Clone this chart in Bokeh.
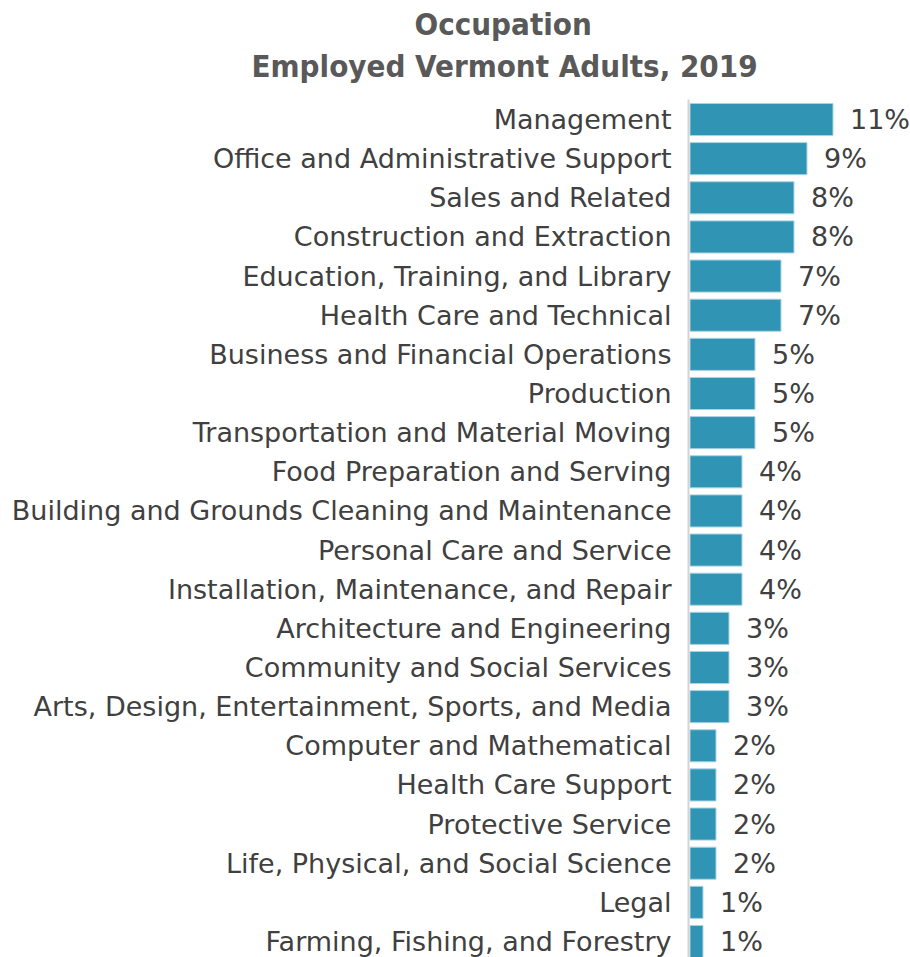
from bokeh.plotting import figure
from bokeh.models import Range1d, FixedTicker, ColumnDataSource, Title
from bokeh.embed import file_html
from bokeh.resources import INLINE
from bokeh.core.properties import value

categories = [
    "Management",
    "Office and Administrative Support",
    "Sales and Related",
    "Construction and Extraction",
    "Education, Training, and Library",
    "Health Care and Technical",
    "Business and Financial Operations",
    "Production",
    "Transportation and Material Moving",
    "Food Preparation and Serving",
    "Building and Grounds Cleaning and Maintenance",
    "Personal Care and Service",
    "Installation, Maintenance, and Repair",
    "Architecture and Engineering",
    "Community and Social Services",
    "Arts, Design, Entertainment, Sports, and Media",
    "Computer and Mathematical",
    "Health Care Support",
    "Protective Service",
    "Life, Physical, and Social Science",
    "Legal",
    "Farming, Fishing, and Forestry",
]
percent = [11, 9, 8, 8, 7, 7, 5, 5, 5, 4, 4, 4, 4, 3, 3, 3, 2, 2, 2, 2, 1, 1]

FONT = "DejaVu Sans"
TEXT_COLOR = "#404040"

n = len(categories)
ypos = [n - 1 - i for i in range(n)]
labels = [f"{v}%" for v in percent]
src = ColumnDataSource(dict(y=ypos, v=percent, lab=labels))

W, H = 910, 957
FL, FT = 688, 99
p = figure(width=W, height=H, output_backend="svg", toolbar_location=None,
           x_range=Range1d(-0.115, -0.115 + (W - FL) / 13.0),
           y_range=Range1d(-0.409, n - 1 + 0.511),
           min_border_left=FL, min_border_right=0, min_border_top=FT, min_border_bottom=0)
p.outline_line_color = None
p.grid.grid_line_color = None
p.xaxis.visible = False
p.background_fill_color = "white"
p.border_fill_color = "white"

p.hbar(y="y", left=0, right="v", height=0.82, source=src,
       fill_color="#3094b4", line_color="#a9d3e2", line_width=1)

p.text(x="v", y="y", text="lab", source=src, x_offset=17,
       text_font=value(FONT), text_font_size="27px", text_color=TEXT_COLOR,
       text_baseline="middle", text_align="left")

ya = p.yaxis[0]
ya.ticker = FixedTicker(ticks=ypos)
ya.major_label_overrides = {y: c for y, c in zip(ypos, categories)}
ya.major_tick_line_color = None
ya.minor_tick_line_color = None
ya.axis_line_color = "#d4d4d4"
ya.axis_line_width = 2
ya.major_label_text_font = FONT
ya.major_label_text_font_size = "27px"
ya.major_label_text_color = TEXT_COLOR
ya.major_label_standoff = 11

TITLE_FONT = "'Liberation Sans Narrow', 'DejaVu Sans Condensed', 'Roboto Condensed', sans-serif"
# spacer between plot frame and subtitle (white text on white)
p.add_layout(Title(text=".", text_color="white", text_font_size="10px", standoff=3), "above")
p.add_layout(Title(text="Employed Vermont Adults, 2019", align="left", offset=251 - FL,
                   text_font=TITLE_FONT, text_font_size="31px", text_font_style="bold",
                   text_color="#595959", standoff=5), "above")
p.add_layout(Title(text="Occupation", align="left", offset=414 - FL,
                   text_font=TITLE_FONT, text_font_size="31px", text_font_style="bold",
                   text_color="#595959", standoff=3), "above")

open("out.html", "w").write(file_html(p, INLINE))
